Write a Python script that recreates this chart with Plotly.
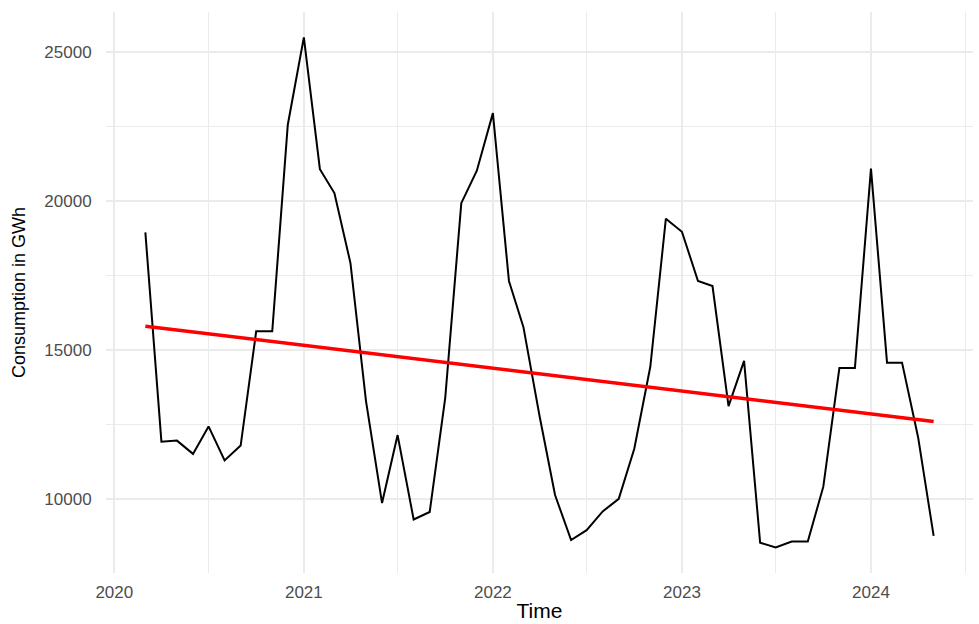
import numpy as np
import pandas as pd
import plotly.graph_objects as go

# Monthly electricity consumption, March 2020 – May 2024 (GWh)
months = pd.date_range("2020-03-01", "2024-05-01", freq="MS")
consumption = [
    18950, 11930, 11965, 11520, 12440, 11300, 11800, 15630, 15630, 22560,            # 2020
    25490, 21070, 20270, 17920, 13290, 9870, 12150, 9320, 9570, 13400, 19930, 21020,  # 2021
    22950, 17320, 15770, 12800, 10140, 8630, 8960, 9590, 10010, 11690, 14450, 19410,  # 2022
    18970, 17320, 17150, 13120, 14640, 8540, 8380, 8580, 8580, 10420, 14400, 14400,   # 2023
    21090, 14580, 14580, 12080, 8770,                                                 # 2024
]
year_ticks = ["2020", "2021", "2022", "2023", "2024"]
y_ticks = [10000, 15000, 20000, 25000]

# Linear trend fitted by least squares on the time axis
t_days = (months - months[0]).days.values.astype(float)
slope, intercept = np.polyfit(t_days, np.array(consumption, dtype=float), 1)
trend = intercept + slope * t_days

fig = go.Figure()
fig.add_trace(go.Scatter(
    x=months, y=consumption, mode="lines",
    line=dict(color="black", width=2), showlegend=False,
))
fig.add_trace(go.Scatter(
    x=[months[0], months[-1]], y=[trend[0], trend[-1]], mode="lines",
    line=dict(color="#ff0000", width=3.5), showlegend=False,
))

grid = "#ebebeb"
fig.update_layout(
    width=979, height=624,
    margin=dict(l=106, r=6, t=12, b=43),
    paper_bgcolor="white", plot_bgcolor="white",
    font=dict(family="Liberation Sans, Arial, sans-serif"),
    xaxis=dict(
        type="date",
        range=["2019-12-16", "2024-07-16"],
        tickvals=[f"{y}-01-01" for y in year_ticks],
        ticktext=year_ticks,
        showgrid=True, gridcolor=grid, gridwidth=1.5,
        minor=dict(dtick="M6", tick0="2020-01-01", showgrid=True, gridcolor=grid, gridwidth=1),
        zeroline=False, showline=False,
        ticks="outside", ticklen=4, tickcolor="rgba(0,0,0,0)",
        tickfont=dict(size=17, color="#4d4d4d"),
        title=dict(text="Time", font=dict(size=21, color="black"), standoff=1),
    ),
    yaxis=dict(
        range=[7524, 26342],
        tickvals=y_ticks,
        ticktext=[str(v) for v in y_ticks],
        showgrid=True, gridcolor=grid, gridwidth=1.5,
        minor=dict(dtick=2500, tick0=0, showgrid=True, gridcolor=grid, gridwidth=1),
        zeroline=False, showline=False,
        ticks="outside", ticklen=10, tickcolor="rgba(0,0,0,0)",
        tickfont=dict(size=17, color="#4d4d4d"),
        title=dict(text="Consumption in GWh", font=dict(size=18, color="black"), standoff=14),
    ),
)

fig.write_html("out.html")
